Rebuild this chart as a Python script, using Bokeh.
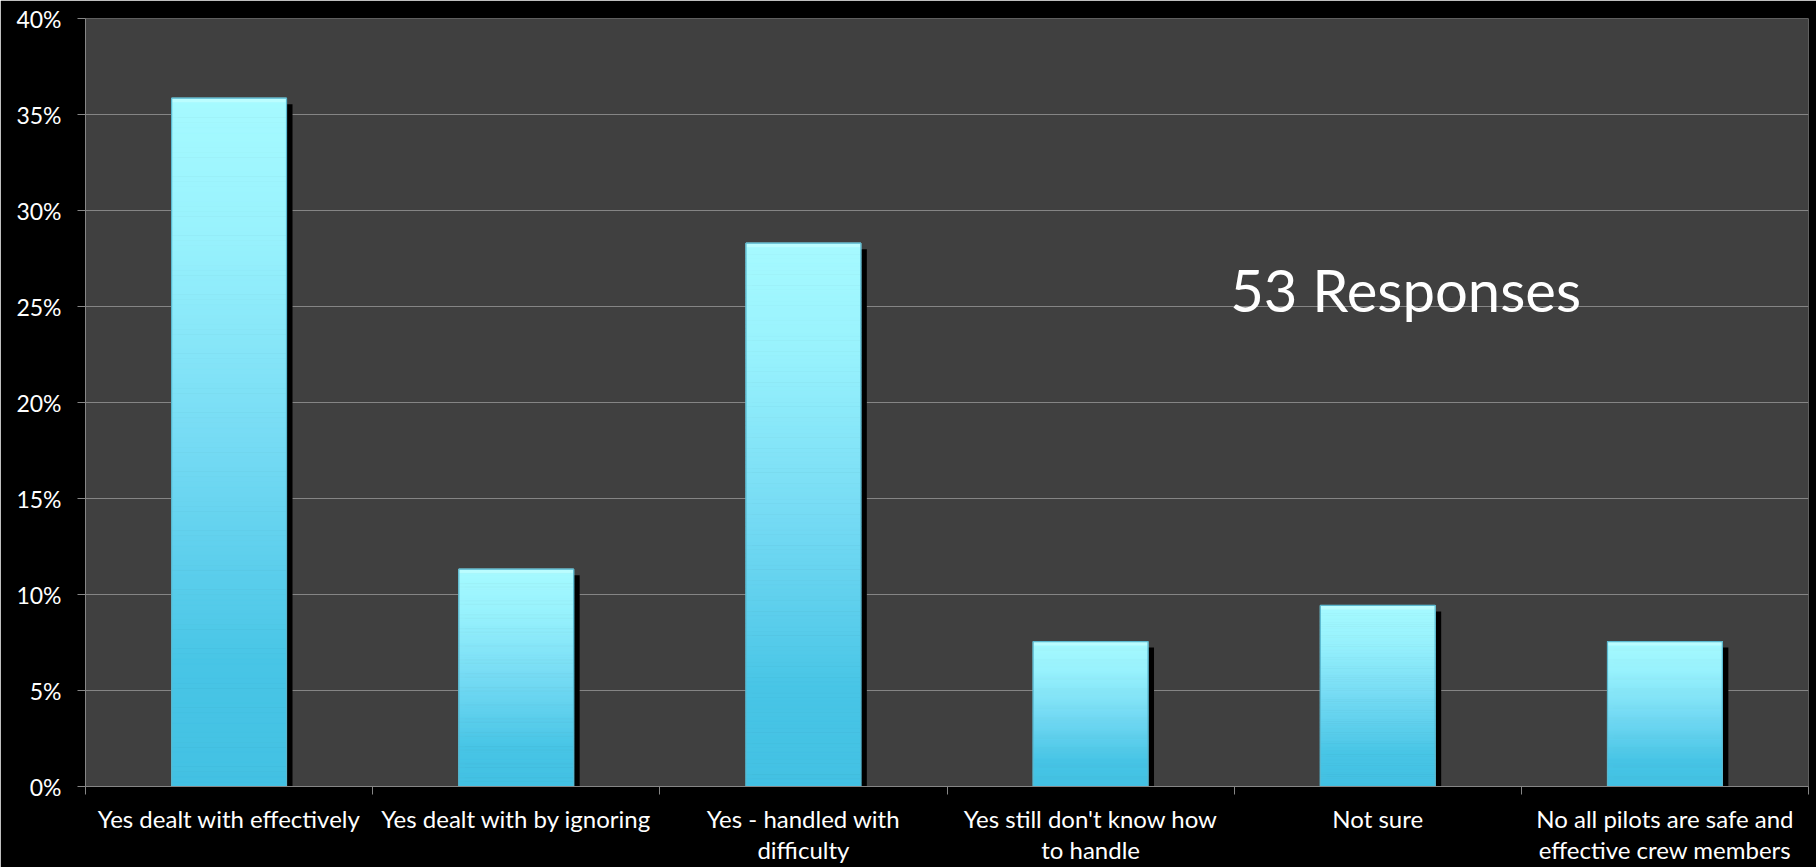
from bokeh.plotting import figure
from bokeh.models import Range1d, FixedTicker, NumeralTickFormatter, Label, ColumnDataSource
from bokeh.embed import file_html
from bokeh.resources import INLINE

# Survey answers (53 responses) and share of respondents
categories = [
    "Yes dealt with effectively",
    "Yes dealt with by ignoring",
    "Yes - handled with\ndifficulty",
    "Yes still don't know how\nto handle",
    "Not sure",
    "No all pilots are safe and\neffective crew members",
]
shares = [0.3585, 0.1132, 0.2830, 0.0755, 0.0943, 0.0755]
y_ticks = [0.0, 0.05, 0.10, 0.15, 0.20, 0.25, 0.30, 0.35, 0.40]
note_text = "53 Responses"

W, H = 1816, 867
BORDER_L, BORDER_R, BORDER_T, BORDER_B = 85, 8, 18, 80
FONT = "Lato"

p = figure(width=W, height=H, output_backend="svg", toolbar_location=None,
           x_range=Range1d(0, len(categories)), y_range=Range1d(0, 0.40),
           min_border_left=BORDER_L, min_border_right=BORDER_R,
           min_border_top=BORDER_T, min_border_bottom=BORDER_B)
p.background_fill_color = "#404040"
p.border_fill_color = "#000000"
p.outline_line_color = None

frame_w = W - BORDER_L - BORDER_R
frame_h = H - BORDER_T - BORDER_B
px_x = len(categories) / frame_w          # data units per pixel, x
px_y = 0.40 / frame_h                     # data units per pixel, y

centers = [i + 0.5 for i in range(len(categories))]
bar_w = 0.4

# drop shadow behind each bar
shadow_dx, shadow_dy = 6 * px_x, 6 * px_y
p.vbar(x=[c + shadow_dx for c in centers], top=[v - shadow_dy for v in shares],
       bottom=0, width=bar_w, fill_color="#000000", line_color=None)

# vertical gradient fill, built from thin slices of each bar
stops = [(0.0, (0x43, 0xc1, 0xe3)), (0.18, (0x48, 0xc5, 0xe6)),
         (0.5, (0x76, 0xdb, 0xf4)), (0.8, (0x98, 0xf2, 0xfd)),
         (1.0, (0xa6, 0xfa, 0xff))]

def grad(f):
    for (f0, c0), (f1, c1) in zip(stops[:-1], stops[1:]):
        if f0 <= f <= f1:
            t = (f - f0) / (f1 - f0)
            r, g, b = (round(a + (bb - a) * t) for a, bb in zip(c0, c1))
            return "#%02x%02x%02x" % (r, g, b)
    return "#%02x%02x%02x" % stops[-1][1]

n = 140
xs, bots, tops, cols = [], [], [], []
for c, v in zip(centers, shares):
    for k in range(n):
        xs.append(c)
        bots.append(v * k / n)
        tops.append(v * (k + 1) / n)
        cols.append(grad((k + 0.5) / n))
p.vbar(source=ColumnDataSource(dict(x=xs, bottom=bots, top=tops, color=cols)),
       x="x", bottom="bottom", top="top", width=bar_w,
       fill_color="color", line_color="color", line_width=1)

# bevel: light top edge and soft outline
p.vbar(x=centers, top=shares, bottom=[v - 4 * px_y for v in shares], width=bar_w,
       fill_color="#ccffff", fill_alpha=0.55, line_color=None)
p.vbar(x=centers, top=shares, bottom=0, width=bar_w,
       fill_color=None, line_color="#5ab8cf", line_width=1.2)

# axes
p.yaxis.ticker = FixedTicker(ticks=y_ticks)
p.yaxis.formatter = NumeralTickFormatter(format="0%")
p.yaxis.major_tick_out = 8
p.yaxis.major_tick_in = 0
p.yaxis.major_label_standoff = 16
p.ygrid.ticker = FixedTicker(ticks=y_ticks)
p.ygrid.grid_line_color = "#858585"
p.ygrid.grid_line_width = 1
p.xgrid.grid_line_color = None

p.xaxis.ticker = FixedTicker(ticks=centers, minor_ticks=list(range(len(categories) + 1)))
p.xaxis.major_label_overrides = {c: lab for c, lab in zip(centers, categories)}
p.xaxis.major_tick_out = 0
p.xaxis.major_tick_in = 0
p.xaxis.minor_tick_out = 8
p.xaxis.minor_tick_in = 0
p.xaxis.major_label_standoff = 9
p.xaxis.major_label_text_line_height = 1.1

for ax in (p.xaxis, p.yaxis):
    ax.axis_line_color = "#868686"
    ax.major_tick_line_color = "#868686"
    ax.minor_tick_line_color = "#868686"
    ax.major_label_text_color = "#ffffff"
    ax.major_label_text_font = FONT
p.xaxis.major_label_text_font_size = "24px"
p.yaxis.major_label_text_font_size = "23px"
p.yaxis.minor_tick_line_color = None

p.add_layout(Label(x=4.597, y=0.2587, text=note_text, text_align="center",
                   text_baseline="middle", text_color="#ffffff",
                   text_font=FONT, text_font_size="58px"))

open("out.html", "w").write(file_html(p, INLINE))
